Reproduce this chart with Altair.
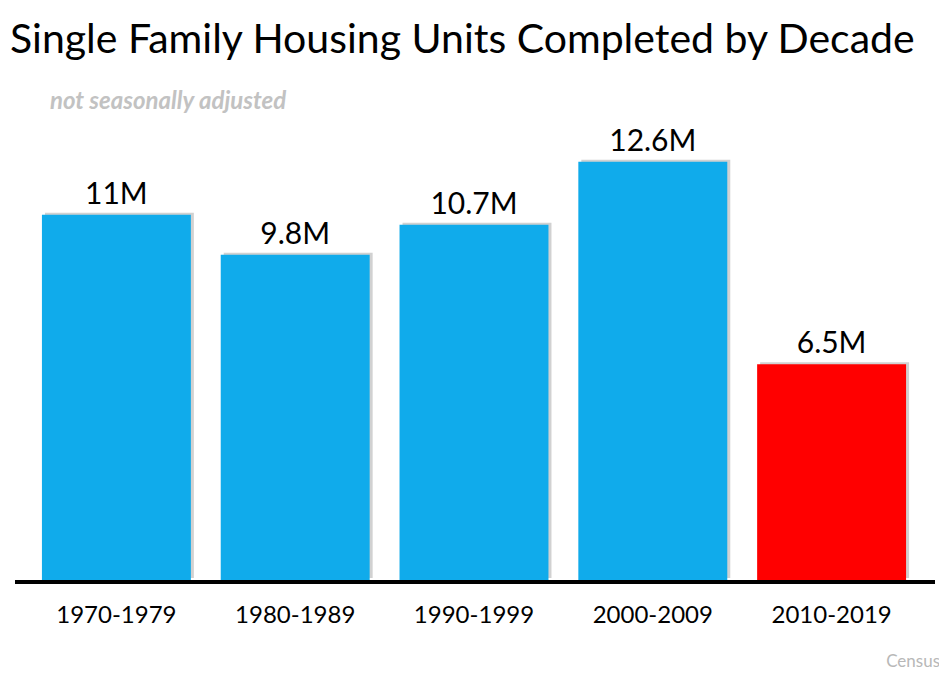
import altair as alt
import pandas as pd

decades = ["1970-1979", "1980-1989", "1990-1999", "2000-2009", "2010-2019"]
values = [11.0, 9.8, 10.7, 12.6, 6.5]
value_labels = ["11M", "9.8M", "10.7M", "12.6M", "6.5M"]
bar_colors = ["#10ABEB", "#10ABEB", "#10ABEB", "#10ABEB", "#FF0000"]

title_text = "Single Family Housing Units Completed by Decade"
subtitle_text = "not seasonally adjusted"
source_text = "Census"

FONT = "Lato"
W, H = 894, 498

df = pd.DataFrame({"decade": decades, "value": values, "label": value_labels, "color": bar_colors})
one = pd.DataFrame({"k": [0]})

x = alt.X(
    "decade:N",
    sort=decades,
    scale=alt.Scale(paddingInner=0.167, paddingOuter=0.0835),
    axis=alt.Axis(
        title=None, labelAngle=0, ticks=False, domain=False,
        labelFont=FONT, labelFontSize=24, labelColor="black", labelPadding=23,
    ),
)
y = alt.Y("value:Q", scale=alt.Scale(domain=[0, 15]), axis=None)

base = alt.Chart(df)
shadow = base.mark_bar(color="#9a9a9a", opacity=0.45, xOffset=3, yOffset=-2).encode(x=x, y=y)
bars = base.mark_bar().encode(x=x, y=y, color=alt.Color("color:N", scale=None))
labels = base.mark_text(dy=-11, baseline="alphabetic", font=FONT, fontSize=30, color="black").encode(
    x=x, y=y, text="label:N"
)
rule = alt.Chart(one).mark_rule(color="black", strokeWidth=4).encode(
    x=alt.value(-12), x2=alt.value(908), y=alt.value(500)
)
title = alt.Chart(one).mark_text(
    text=title_text, align="left", baseline="alphabetic", font=FONT,
    fontSize=41, color="black",
).encode(x=alt.value(-17), y=alt.value(-29))
subtitle = alt.Chart(one).mark_text(
    text=subtitle_text, align="left", baseline="alphabetic", font=FONT,
    fontSize=24, fontStyle="italic", fontWeight="bold", color="#c2c2c2",
).encode(x=alt.value(23), y=alt.value(27))
source = alt.Chart(one).mark_text(
    text=source_text, align="right", baseline="alphabetic", font=FONT,
    fontSize=17, color="#b8b8b8",
).encode(x=alt.value(913), y=alt.value(585))

chart = alt.layer(shadow, bars, labels, rule, title, subtitle, source).properties(
    width=W,
    height=H,
    autosize="none",
    padding={"left": 19, "top": 74, "right": 18, "bottom": 93},
).configure_view(stroke=None)

chart.save("out.html", embed_options={"renderer": "svg", "actions": False})
